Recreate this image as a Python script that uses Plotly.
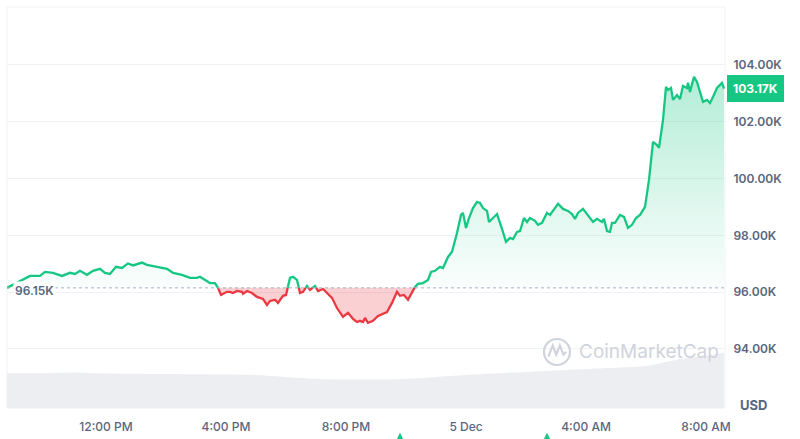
import plotly.graph_objects as go
import pandas as pd

# ---------------- data ----------------
times = [
    "2024-12-04 08:42", "2024-12-04 09:28", "2024-12-04 09:48", "2024-12-04 09:58", "2024-12-04 10:14",
    "2024-12-04 10:32", "2024-12-04 10:48", "2024-12-04 10:58", "2024-12-04 11:08", "2024-12-04 11:22",
    "2024-12-04 11:34", "2024-12-04 11:48", "2024-12-04 11:58", "2024-12-04 12:08", "2024-12-04 12:20",
    "2024-12-04 12:32", "2024-12-04 12:44", "2024-12-04 12:54", "2024-12-04 13:12", "2024-12-04 13:22",
    "2024-12-04 13:42", "2024-12-04 14:02", "2024-12-04 14:14", "2024-12-04 14:32", "2024-12-04 14:48",
    "2024-12-04 15:02", "2024-12-04 15:08", "2024-12-04 15:18", "2024-12-04 15:28", "2024-12-04 15:38",
    "2024-12-04 15:44", "2024-12-04 15:50", "2024-12-04 16:02", "2024-12-04 16:08", "2024-12-04 16:14",
    "2024-12-04 16:22", "2024-12-04 16:32", "2024-12-04 16:34", "2024-12-04 16:42", "2024-12-04 16:52",
    "2024-12-04 17:02", "2024-12-04 17:08", "2024-12-04 17:14", "2024-12-04 17:22", "2024-12-04 17:28",
    "2024-12-04 17:38", "2024-12-04 17:44", "2024-12-04 17:54", "2024-12-04 18:00", "2024-12-04 18:08",
    "2024-12-04 18:14", "2024-12-04 18:22", "2024-12-04 18:28", "2024-12-04 18:34", "2024-12-04 18:42",
    "2024-12-04 18:48", "2024-12-04 18:58", "2024-12-04 19:04", "2024-12-04 19:14", "2024-12-04 19:22",
    "2024-12-04 19:32", "2024-12-04 19:42", "2024-12-04 19:54", "2024-12-04 20:04", "2024-12-04 20:14",
    "2024-12-04 20:22", "2024-12-04 20:28", "2024-12-04 20:34", "2024-12-04 20:38", "2024-12-04 20:44",
    "2024-12-04 20:54", "2024-12-04 21:04", "2024-12-04 21:22", "2024-12-04 21:32", "2024-12-04 21:42",
    "2024-12-04 21:48", "2024-12-04 21:56", "2024-12-04 22:04", "2024-12-04 22:12", "2024-12-04 22:18",
    "2024-12-04 22:24", "2024-12-04 22:34", "2024-12-04 22:44", "2024-12-04 22:50", "2024-12-04 22:58",
    "2024-12-04 23:08", "2024-12-04 23:14", "2024-12-04 23:24", "2024-12-04 23:32", "2024-12-04 23:42",
    "2024-12-04 23:50", "2024-12-04 23:54", "2024-12-05 00:00", "2024-12-05 00:06", "2024-12-05 00:14",
    "2024-12-05 00:22", "2024-12-05 00:28", "2024-12-05 00:34", "2024-12-05 00:42", "2024-12-05 00:46",
    "2024-12-05 00:54", "2024-12-05 01:02", "2024-12-05 01:12", "2024-12-05 01:20", "2024-12-05 01:28",
    "2024-12-05 01:34", "2024-12-05 01:42", "2024-12-05 01:48", "2024-12-05 01:56", "2024-12-05 02:02",
    "2024-12-05 02:08", "2024-12-05 02:18", "2024-12-05 02:24", "2024-12-05 02:32", "2024-12-05 02:42",
    "2024-12-05 02:48", "2024-12-05 03:04", "2024-12-05 03:14", "2024-12-05 03:24", "2024-12-05 03:32",
    "2024-12-05 03:38", "2024-12-05 03:44", "2024-12-05 03:54", "2024-12-05 04:04", "2024-12-05 04:14",
    "2024-12-05 04:22", "2024-12-05 04:32", "2024-12-05 04:36", "2024-12-05 04:42", "2024-12-05 04:48",
    "2024-12-05 04:52", "2024-12-05 04:58", "2024-12-05 05:08", "2024-12-05 05:16", "2024-12-05 05:24",
    "2024-12-05 05:32", "2024-12-05 05:40", "2024-12-05 05:48", "2024-12-05 05:58", "2024-12-05 06:06",
    "2024-12-05 06:14", "2024-12-05 06:22", "2024-12-05 06:26", "2024-12-05 06:34", "2024-12-05 06:40",
    "2024-12-05 06:44", "2024-12-05 06:50", "2024-12-05 06:54", "2024-12-05 07:02", "2024-12-05 07:08",
    "2024-12-05 07:14", "2024-12-05 07:22", "2024-12-05 07:24", "2024-12-05 07:28", "2024-12-05 07:36",
    "2024-12-05 07:42", "2024-12-05 07:48", "2024-12-05 07:54", "2024-12-05 08:02", "2024-12-05 08:08",
    "2024-12-05 08:14", "2024-12-05 08:22", "2024-12-05 08:32", "2024-12-05 08:36",
]
prices = [  # thousands of USD
    96.15, 96.57, 96.57, 96.71, 96.68,
    96.57, 96.68, 96.64, 96.75, 96.61,
    96.75, 96.82, 96.68, 96.64, 96.89,
    96.85, 97.01, 96.94, 97.04, 96.96,
    96.89, 96.82, 96.68, 96.61, 96.50,
    96.50, 96.54, 96.43, 96.32, 96.32,
    96.15, 95.90, 96.01, 96.01, 95.97,
    96.04, 96.01, 95.94, 96.04, 95.97,
    95.83, 95.80, 95.76, 95.55, 95.69,
    95.73, 95.62, 95.87, 95.90, 96.50,
    96.54, 96.43, 95.97, 96.01, 96.22,
    96.08, 96.22, 96.04, 96.11, 95.97,
    95.80, 95.44, 95.13, 95.27, 95.06,
    94.95, 94.99, 94.95, 95.09, 94.92,
    94.99, 95.16, 95.30, 95.62, 96.01,
    95.87, 95.90, 95.73, 96.01, 96.18,
    96.29, 96.32, 96.43, 96.71, 96.75,
    96.89, 96.85, 97.24, 97.42, 98.08,
    98.72, 98.79, 98.26, 98.61, 98.96,
    99.18, 99.14, 98.96, 98.86, 98.47,
    98.61, 98.75, 98.23, 97.77, 97.91,
    97.87, 98.12, 98.15, 98.61, 98.47,
    98.61, 98.51, 98.37, 98.44, 98.79,
    98.72, 99.11, 98.93, 98.86, 98.75,
    98.58, 98.79, 98.93, 98.72, 98.47,
    98.58, 98.47, 98.58, 98.15, 98.12,
    98.44, 98.44, 98.72, 98.65, 98.26,
    98.37, 98.61, 98.72, 99.00, 99.95,
    101.29, 101.18, 101.08, 102.06, 103.23,
    103.12, 103.19, 102.77, 102.94, 102.80,
    103.26, 103.19, 103.37, 103.05, 103.58,
    103.40, 103.05, 102.70, 102.77, 102.66,
    102.87, 103.19, 103.37, 103.17,
]
base_price = 96.15
current_price = 103.17

vol_times = [
    "2024-12-04 08:42", "2024-12-04 10:00", "2024-12-04 11:00", "2024-12-04 12:00", "2024-12-04 14:00",
    "2024-12-04 16:00", "2024-12-04 17:00", "2024-12-04 18:00", "2024-12-04 19:00", "2024-12-04 20:00",
    "2024-12-04 21:00", "2024-12-04 22:00", "2024-12-04 23:00", "2024-12-05 00:00", "2024-12-05 02:00",
    "2024-12-05 04:00", "2024-12-05 06:00", "2024-12-05 07:00", "2024-12-05 08:00", "2024-12-05 08:36",
]
vol_values = [70, 70, 71, 69, 68, 67, 66, 62, 58, 57, 57, 58, 62, 66, 72, 78, 84, 96, 104, 110]  # billions USD

y_tick_vals = [94, 96, 98, 100, 102, 104]
y_tick_text = ["94.00K", "96.00K", "98.00K", "100.00K", "102.00K", "104.00K"]
x_tick_vals = ["2024-12-04 12:00", "2024-12-04 16:00", "2024-12-04 20:00",
               "2024-12-05 00:00", "2024-12-05 04:00", "2024-12-05 08:00"]
x_tick_text = ["12:00 PM", "4:00 PM", "8:00 PM", "5 Dec", "4:00 AM", "8:00 AM"]
event_times = ["2024-12-04 21:48", "2024-12-05 02:42"]

# ---------------- colours ----------------
GREEN = "#16c784"
RED = "#ea3943"
TEXT = "#58667e"
GRID = "#eff2f5"

Y_RANGE = [91.92, 106.04]
X_RANGE = [pd.Timestamp("2024-12-04 08:42"), pd.Timestamp("2024-12-05 08:38")]

# ---------------- split series at the baseline ----------------
ts = pd.to_datetime(pd.Series(times))
pts = []
for i in range(len(prices)):
    if i > 0:
        p0, p1 = prices[i - 1], prices[i]
        if (p0 - base_price) * (p1 - base_price) < 0:
            f = (base_price - p0) / (p1 - p0)
            tc = ts[i - 1] + (ts[i] - ts[i - 1]) * f
            pts.append((tc, base_price))
    pts.append((ts[i], prices[i]))

px = [p[0] for p in pts]
py = [p[1] for p in pts]
green_line = [v if v >= base_price else None for v in py]
red_line = [v if v <= base_price else None for v in py]
green_fill = [max(v, base_price) for v in py]
red_fill = [min(v, base_price) for v in py]
base_line = [base_price] * len(py)

fig = go.Figure()

# volume area
fig.add_trace(go.Scatter(
    x=pd.to_datetime(vol_times), y=vol_values, yaxis="y2", mode="lines",
    line=dict(width=0, shape="spline", smoothing=0.6), fill="tozeroy",
    fillcolor="#eceef2", hoverinfo="skip", showlegend=False))

# green fill
fig.add_trace(go.Scatter(x=px, y=base_line, mode="lines", line=dict(width=0),
                         hoverinfo="skip", showlegend=False))
fig.add_trace(go.Scatter(
    x=px, y=green_fill, mode="lines", line=dict(width=0), fill="tonexty",
    fillgradient=dict(type="vertical", start=base_price, stop=max(prices),
                      colorscale=[[0, "rgba(22,199,132,0.02)"], [1, "rgba(22,199,132,0.32)"]]),
    hoverinfo="skip", showlegend=False))

# red fill
fig.add_trace(go.Scatter(x=px, y=base_line, mode="lines", line=dict(width=0),
                         hoverinfo="skip", showlegend=False))
fig.add_trace(go.Scatter(
    x=px, y=red_fill, mode="lines", line=dict(width=0), fill="tonexty",
    fillcolor="rgba(234,57,67,0.24)", hoverinfo="skip", showlegend=False))

# lines
fig.add_trace(go.Scatter(x=px, y=green_line, mode="lines",
                         line=dict(color=GREEN, width=2.3), connectgaps=False, showlegend=False))
fig.add_trace(go.Scatter(x=px, y=red_line, mode="lines",
                         line=dict(color=RED, width=2.3), connectgaps=False, showlegend=False))

# event markers peeking at the bottom edge (small triangles below the plot area)
span = (X_RANGE[1] - X_RANGE[0]).total_seconds()
for et in event_times:
    xp = (pd.Timestamp(et) - X_RANGE[0]).total_seconds() / span
    fig.add_shape(type="path", xref="paper", yref="paper",
                  path=f"M {xp - 0.0065} -0.088 L {xp} -0.064 L {xp + 0.0065} -0.088 Z",
                  fillcolor=GREEN, line=dict(color=GREEN, width=1), layer="above")

# baseline dotted
fig.add_shape(type="line", xref="paper", x0=0, x1=1, yref="y", y0=base_price, y1=base_price,
              line=dict(color="#a6b0c3", width=1, dash="dot"), layer="above")
# frame
fig.add_shape(type="rect", xref="paper", yref="paper", x0=0, x1=1, y0=0, y1=1,
              line=dict(color=GRID, width=1), layer="below")

# CoinMarketCap watermark logo
fig.add_shape(type="circle", xref="paper", yref="paper",
              x0=0.7479, x1=0.7841, y0=0.1072, y1=0.1721,
              line=dict(color="#cfd4dc", width=2.2), layer="above")
fig.add_shape(type="path", xref="paper", yref="paper",
              path="M 0.7540 0.1280 L 0.7600 0.1560 L 0.7650 0.1330 L 0.7700 0.1560 L 0.7750 0.1330 L 0.7790 0.1400",
              line=dict(color="#cfd4dc", width=2.2), layer="above")
fig.add_annotation(xref="paper", yref="paper", x=0.794, y=0.1397, xanchor="left", yanchor="middle",
                   text="CoinMarketCap", showarrow=False,
                   font=dict(family="Inter, Lato, sans-serif", size=19, color="#cfd4dc"))

# baseline label
fig.add_annotation(xref="paper", x=0.008, xanchor="left", yref="y", y=base_price, yanchor="middle",
                   yshift=-3, text="96.15K", showarrow=False, bgcolor="white", borderpad=1,
                   font=dict(family="Inter, sans-serif", size=12, color=TEXT, weight=600))
# current price label
fig.add_annotation(xref="paper", x=1, xanchor="left", xshift=2, yref="y", y=current_price,
                   yanchor="middle", text=f"{current_price:.2f}K", showarrow=False,
                   bgcolor=GREEN, bordercolor=GREEN, borderpad=5,
                   font=dict(family="Inter, sans-serif", size=12, color="white", weight=700))
# USD label
fig.add_annotation(xref="paper", x=1, xanchor="left", xshift=13, yref="paper", y=0, yanchor="middle",
                   yshift=3, text="USD", showarrow=False,
                   font=dict(family="Inter, sans-serif", size=13, color=TEXT, weight=700))

fig.update_layout(
    width=800, height=439,
    margin=dict(l=7, r=75, t=7, b=31, autoexpand=False),
    paper_bgcolor="white", plot_bgcolor="white",
    showlegend=False,
    font=dict(family="Inter, sans-serif", color=TEXT),
    xaxis=dict(
        type="date", range=X_RANGE,
        tickvals=pd.to_datetime(x_tick_vals), ticktext=x_tick_text,
        showgrid=False, zeroline=False, showline=False,
        ticks="outside", ticklen=8, tickcolor="rgba(0,0,0,0)",
        tickfont=dict(size=12, color=TEXT, family="Inter, sans-serif", weight=500),
    ),
    yaxis=dict(
        side="right", range=Y_RANGE,
        tickvals=y_tick_vals, ticktext=y_tick_text,
        showgrid=True, gridcolor=GRID, gridwidth=1, zeroline=False, showline=False,
        ticks="outside", ticklen=5, tickcolor="rgba(0,0,0,0)",
        tickfont=dict(size=12, color=TEXT, family="Inter, sans-serif", weight=600),
    ),
    yaxis2=dict(overlaying="y", range=[0, 800], visible=False, showgrid=False),
)

fig.write_html("out.html", config={"displayModeBar": False},
               post_script="document.body.style.margin='0';document.body.style.overflow='hidden';")
